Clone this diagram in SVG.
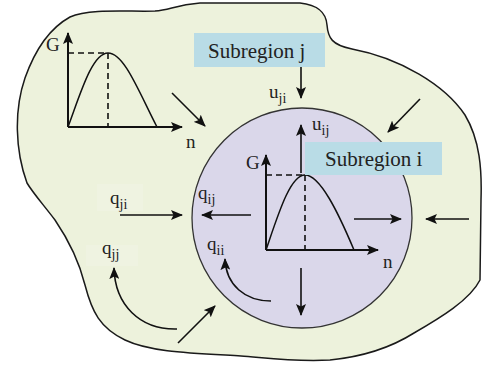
<svg xmlns="http://www.w3.org/2000/svg" width="482" height="366" viewBox="0 0 482 366">
<style>
.ln{stroke:#111;stroke-width:1.6;fill:none}
.ax{stroke:#111;stroke-width:2;fill:none}
.ds{stroke:#111;stroke-width:1.6;fill:none;stroke-dasharray:6 4}
.cv{stroke:#111;stroke-width:1.5;fill:none}
text{font-family:'Liberation Serif','DejaVu Serif',serif;fill:#222}
.lb{font-size:19px}
.sb{font-size:14px}
.box{fill:#b9dce6}
.lbg{fill:#eff3e1}
</style>
<defs>
<marker id="ah" markerWidth="12" markerHeight="10" refX="11" refY="5" orient="auto" markerUnits="userSpaceOnUse">
<path d="M0,0 L12,5 L0,10 L2.5,5 Z" fill="#111"/>
</marker>
</defs>
<g id="region-j">
<path d="M27,183 C15,150 14,110 25,78 C35,50 50,28 70,17 C90,8 130,12 155,11 C170,10 175,5 200,3 L300,3 C318,5 326,12 327,25 C328,38 332,45 352,49 C400,58 445,85 465,115 C480,140 482,170 481,200 L480,280 C470,300 440,318 414,333 C395,345 370,356 330,360 C290,362 260,357 241,356 C190,353 150,352 125,340 C100,328 92,312 85,285 C80,265 72,245 55,220 C42,203 33,193 27,183 Z" fill="#edf2dc" stroke="#1a1a1a" stroke-width="1.5"/>
</g>
<g id="region-i">
<circle cx="302" cy="218" r="110" fill="#dad7ea" stroke="#333" stroke-width="1.3"/>
</g>
<g id="graph-j">
<line class="ds" x1="68" y1="53" x2="108" y2="53"/>
<line class="ds" x1="108" y1="53" x2="108" y2="127"/>
<path class="cv" d="M68,127 C80,95 92,53 108,53 C124,53 138,90 157,127"/>
<line class="ax" x1="68" y1="127" x2="68" y2="33" marker-end="url(#ah)"/>
<line class="ax" x1="68" y1="127" x2="182" y2="127" marker-end="url(#ah)"/>
<text class="lb" x="46" y="51" font-family="'Liberation Serif', serif">G</text>
<text class="lb" x="186" y="148" font-family="'Liberation Serif', serif">n</text>
</g>
<g id="graph-i">
<line class="ds" x1="266" y1="175" x2="305" y2="175"/>
<line class="ds" x1="305" y1="175" x2="305" y2="250"/>
<path class="cv" d="M266,250 C278,215 290,175 305,175 C320,175 338,212 354,250"/>
<line class="ax" x1="266" y1="250" x2="266" y2="155" marker-end="url(#ah)"/>
<line class="ax" x1="266" y1="250" x2="378" y2="250" marker-end="url(#ah)"/>
<text class="lb" x="246" y="169" font-family="'Liberation Serif', serif">G</text>
<text class="lb" x="383" y="268" font-family="'Liberation Serif', serif">n</text>
</g>
<g id="label-subregion-j">
<rect class="box" x="194" y="33" width="131" height="34"/>
<text x="208" y="58" font-size="21" font-family="'Liberation Serif', serif">Subregion j</text>
</g>
<g id="label-subregion-i">
<rect class="box" x="305" y="142" width="137" height="33"/>
<text x="325" y="166" font-size="21" font-family="'Liberation Serif', serif">Subregion i</text>
</g>
<g id="connectors">
<line class="ln" x1="172" y1="93" x2="205" y2="126" marker-end="url(#ah)"/>
<line class="ln" x1="301" y1="67" x2="301" y2="98" marker-end="url(#ah)"/>
<line class="ln" x1="301" y1="173" x2="301" y2="125" marker-end="url(#ah)"/>
<line class="ln" x1="420" y1="99" x2="388" y2="132" marker-end="url(#ah)"/>
<line class="ln" x1="354" y1="219" x2="401" y2="219" marker-end="url(#ah)"/>
<line class="ln" x1="469" y1="219" x2="426" y2="219" marker-end="url(#ah)"/>
<line class="ln" x1="301" y1="268" x2="301" y2="315" marker-end="url(#ah)"/>
<line class="ln" x1="251" y1="215" x2="202" y2="215" marker-end="url(#ah)"/>
<line class="ln" x1="120" y1="215" x2="182" y2="215" marker-end="url(#ah)"/>
<path class="ln" d="M177,329 C140,330 115,305 114,268" marker-end="url(#ah)"/>
<line class="ln" x1="178" y1="343" x2="215" y2="306" marker-end="url(#ah)"/>
<path class="ln" d="M271,301 C245,301 226,285 225,259" marker-end="url(#ah)"/>
</g>
<g id="labels">
<rect class="lbg" x="97" y="184" width="46" height="27"/>
<rect class="lbg" x="86" y="245" width="52" height="21"/>
<text class="lb" x="269" y="98" font-family="'Liberation Serif', serif">u<tspan class="sb" dy="5">ji</tspan></text>
<text class="lb" x="312" y="130" font-family="'Liberation Serif', serif">u<tspan class="sb" dy="5">ij</tspan></text>
<text class="lb" x="198" y="199" font-family="'Liberation Serif', serif">q<tspan class="sb" dy="5">ij</tspan></text>
<text class="lb" x="110" y="204" font-family="'Liberation Serif', serif">q<tspan class="sb" dy="5">ji</tspan></text>
<text class="lb" x="102" y="254" font-family="'Liberation Serif', serif">q<tspan class="sb" dy="5">jj</tspan></text>
<text class="lb" x="207" y="250" font-family="'Liberation Serif', serif">q<tspan class="sb" dy="5">ii</tspan></text>
</g>
</svg>
